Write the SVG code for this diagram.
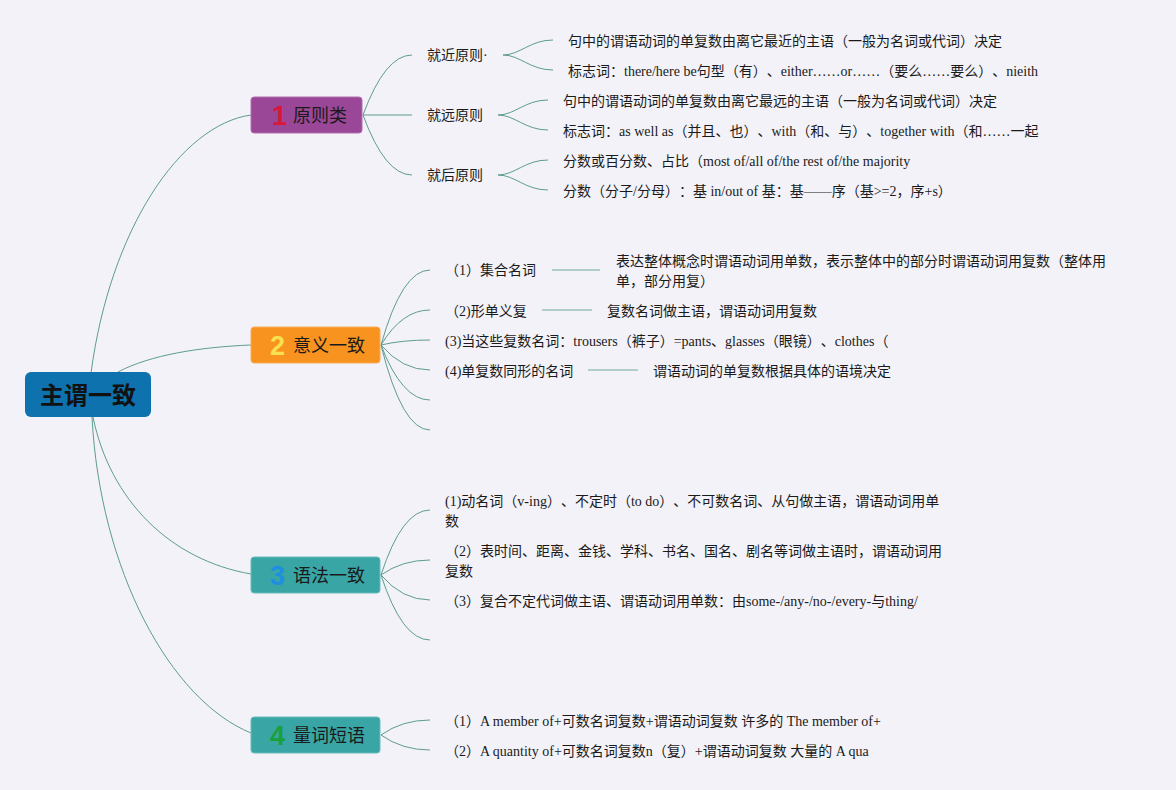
<svg xmlns="http://www.w3.org/2000/svg" width="1176" height="790" viewBox="0 0 1176 790">
<style>
text{text-spacing-trim:space-all}
.bg{fill:#f2f2f8}
.c{fill:none;stroke:#5e9c8f;stroke-width:1}
.h{fill:none;stroke:#9dc2ba;stroke-width:1.5}
.t{font-family:"Liberation Serif","Noto Sans CJK SC",serif;font-size:14px;fill:#1a1a1a}
.lb{font-family:"Noto Sans CJK SC","Noto Sans",sans-serif;font-size:14px;fill:#1a1a1a}
.dot{font-family:"Liberation Serif",serif}
.nl{font-family:"Noto Sans CJK SC","Noto Sans",sans-serif;font-size:18px;fill:#1a1a1a}
.num{font-family:"Liberation Sans","Noto Sans",sans-serif;font-size:27px;font-weight:bold}
.root{font-family:"Noto Sans CJK SC","Noto Sans",sans-serif;font-size:24px;font-weight:bold;fill:#111}
</style>
<rect class="bg" x="0" y="0" width="1176" height="790"/>
<g id="connectors">
<path class="c" d="M91,373 C110,230 180,125 251,115"/>
<path class="c" d="M118,372 C150,355 200,347 251,345"/>
<path class="c" d="M93,417 C110,500 170,560 251,574"/>
<path class="c" d="M92,417 C100,570 170,700 251,733"/>
<path class="c" d="M363,115 Q385,55 412,55"/>
<path class="c" d="M363,115 L412,115"/>
<path class="c" d="M363,115 Q385,175 412,175"/>
<path class="c" d="M503,55 C520,55 530,40 553,40"/>
<path class="c" d="M503,55 C520,55 530,70 553,70"/>
<path class="c" d="M498,115 C515,115 525,100 548,100"/>
<path class="c" d="M498,115 C515,115 525,130 548,130"/>
<path class="c" d="M498,175 C515,175 525,160 548,160"/>
<path class="c" d="M498,175 C515,175 525,190 548,190"/>
<path class="c" d="M381,345 Q402,270 430,270"/>
<path class="c" d="M381,345 Q402,310 430,310"/>
<path class="c" d="M381,345 Q402,340 430,340"/>
<path class="c" d="M381,345 Q402,370 430,370"/>
<path class="c" d="M381,345 Q402,400 430,400"/>
<path class="c" d="M381,345 Q402,430 430,430"/>
<path class="h" d="M552,270 L600,270"/>
<path class="h" d="M542,310 L592,310"/>
<path class="h" d="M588,370 L638,370"/>
<path class="c" d="M381,575 Q402,510 430,510"/>
<path class="c" d="M381,575 Q402,560 430,560"/>
<path class="c" d="M381,575 Q402,600 430,600"/>
<path class="c" d="M381,575 Q402,640 430,640"/>
<path class="c" d="M381,735 Q402,720 430,720"/>
<path class="c" d="M381,735 Q402,750 430,750"/>
</g>
<g id="root">
<rect x="25" y="372" width="126" height="45" rx="6" fill="#0d72ad"/>
<text class="root" x="88" y="404" text-anchor="middle">主谓一致</text>
</g>
<g id="n1">
<rect x="251" y="97" width="111" height="36" rx="3" fill="#9b4797" stroke="#b070ae" stroke-width="1"/>
<text class="num" x="272" y="125" fill="#d8183a">1</text>
<text class="nl" x="293" y="121.5">原则类</text>
</g>
<g id="n2">
<rect x="251" y="327" width="129" height="36" rx="3" fill="#f7931e" stroke="#f9ad5a" stroke-width="1"/>
<text class="num" x="270" y="355" fill="#f8e050">2</text>
<text class="nl" x="293" y="351.5">意义一致</text>
</g>
<g id="n3">
<rect x="251" y="557" width="129" height="36" rx="3" fill="#39a5a5" stroke="#6cbcbc" stroke-width="1"/>
<text class="num" x="270" y="585" fill="#1e8fe0">3</text>
<text class="nl" x="293" y="581.5">语法一致</text>
</g>
<g id="n4">
<rect x="251" y="717" width="129" height="36" rx="3" fill="#39a5a5" stroke="#6cbcbc" stroke-width="1"/>
<text class="num" x="270" y="745" fill="#1aa03a">4</text>
<text class="nl" x="293" y="741.5">量词短语</text>
</g>
<g id="n1-1"><text class="lb" x="427" y="60">就近原则<tspan class="dot">·</tspan></text></g>
<g id="n1-2"><text class="lb" x="427" y="120">就远原则</text></g>
<g id="n1-3"><text class="lb" x="427" y="180">就后原则</text></g>
<g id="n1-1-1"><text class="t" x="568" y="46">句中的谓语动词的单复数由离它最近的主语（一般为名词或代词）决定</text></g>
<g id="n1-1-2"><text class="t" x="568" y="76">标志词：there/here be句型（有）、either……or……（要么……要么）、nieith</text></g>
<g id="n1-2-1"><text class="t" x="563" y="106">句中的谓语动词的单复数由离它最远的主语（一般为名词或代词）决定</text></g>
<g id="n1-2-2"><text class="t" x="563" y="136">标志词：as well as（并且、也）、with（和、与）、together with（和……一起</text></g>
<g id="n1-3-1"><text class="t" x="563" y="166">分数或百分数、占比（most of/all of/the rest of/the majority</text></g>
<g id="n1-3-2"><text class="t" x="563" y="196">分数（分子/分母）：基 in/out of 基：基——序（基&gt;=2，序+s）</text></g>
<g id="n2-1"><text class="t" x="445" y="275">（1）集合名词</text></g>
<g id="n2-1-1"><text class="t" x="616" y="266">表达整体概念时谓语动词用单数，表示整体中的部分时谓语动词用复数（整体用</text><text class="t" x="616" y="286">单，部分用复）</text></g>
<g id="n2-2"><text class="t" x="445" y="316">（2)形单义复</text></g>
<g id="n2-2-1"><text class="t" x="607" y="316">复数名词做主语，谓语动词用复数</text></g>
<g id="n2-3"><text class="t" x="445" y="346">(3)当这些复数名词：trousers（裤子）=pants、glasses（眼镜）、clothes（</text></g>
<g id="n2-4"><text class="t" x="445" y="376">(4)单复数同形的名词</text></g>
<g id="n2-4-1"><text class="t" x="653" y="376">谓语动词的单复数根据具体的语境决定</text></g>
<g id="n3-1"><text class="t" x="445" y="506">(1)动名词（v-ing）、不定时（to do）、不可数名词、从句做主语，谓语动词用单</text><text class="t" x="445" y="526">数</text></g>
<g id="n3-2"><text class="t" x="445" y="556">（2）表时间、距离、金钱、学科、书名、国名、剧名等词做主语时，谓语动词用</text><text class="t" x="445" y="576">复数</text></g>
<g id="n3-3"><text class="t" x="445" y="606">（3）复合不定代词做主语、谓语动词用单数：由some-/any-/no-/every-与thing/</text></g>
<g id="n4-1"><text class="t" x="445" y="726">（1）A member of+可数名词复数+谓语动词复数 许多的 The member of+</text></g>
<g id="n4-2"><text class="t" x="445" y="756">（2）A quantity of+可数名词复数n（复）+谓语动词复数 大量的 A qua</text></g>
</svg>
